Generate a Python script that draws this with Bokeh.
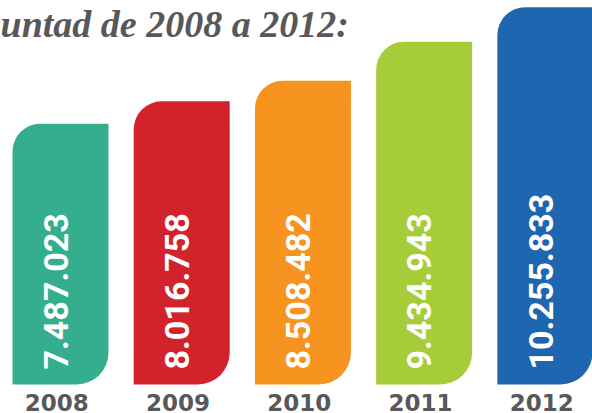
import math
from bokeh.plotting import figure
from bokeh.models import Range1d, ColumnDataSource, Label
from bokeh.core.properties import value
from bokeh.embed import file_html
from bokeh.resources import INLINE

# ---- data ----
years = ["2008", "2009", "2010", "2011", "2012"]
values = [7487023, 8016758, 8508482, 9434943, 10255833]
value_labels = ["7.487.023", "8.016.758", "8.508.482", "9.434.943", "10.255.833"]
colors = ["#35ae8f", "#d2232d", "#f7941f", "#a6cd39", "#1f66b0"]
title_text = "untad de 2008 a 2012:"

# ---- layout ----
W, H = 592, 413
baseline = 1.288e6          # value at the bars' foot
px_per_unit = 42.08 / 1e6   # pixels per unit of value
y0 = baseline - 29 / px_per_unit
y1 = baseline + 384 / px_per_unit
x0, x1 = -0.495, 4.389

xs = list(range(len(years)))
src = ColumnDataSource(dict(
    x=xs, top=values, color=colors, lab=value_labels, year=years,
    xl=[x - 0.04 for x in xs], xy=[x - 0.03 for x in xs],
))

p = figure(width=W, height=H, x_range=Range1d(x0, x1), y_range=Range1d(y0, y1),
           output_backend="svg", toolbar_location=None, min_border=0,
           background_fill_color="white", border_fill_color="white")
p.axis.visible = False
p.grid.visible = False
p.outline_line_color = None

p.vbar(x="x", top="top", bottom=baseline, width=0.792, fill_color="color",
       line_color=None, source=src, border_radius=(28, 0, 32, 0))

p.text(x="xl", y=baseline + 15 / px_per_unit, text="lab", source=src,
       angle=math.pi / 2, text_align="left", text_baseline="middle",
       text_color="white", text_font=value("Roboto"),
       text_font_style="bold", text_font_size="34px")

p.text(x="xy", y=baseline - 18 / px_per_unit, text="year", source=src,
       text_align="center", text_baseline="alphabetic",
       text_color="#58585a", text_font=value("DejaVu Sans"),
       text_font_style="bold", text_font_size="23px")

p.add_layout(Label(x=x0, y=baseline + (384 - 23) / px_per_unit, text=title_text,
                   text_align="left", text_baseline="alphabetic",
                   text_color="#58585a", text_font="Liberation Serif",
                   text_font_style="bold italic", text_font_size="38px"))

open("out.html", "w").write(file_html(p, INLINE))
